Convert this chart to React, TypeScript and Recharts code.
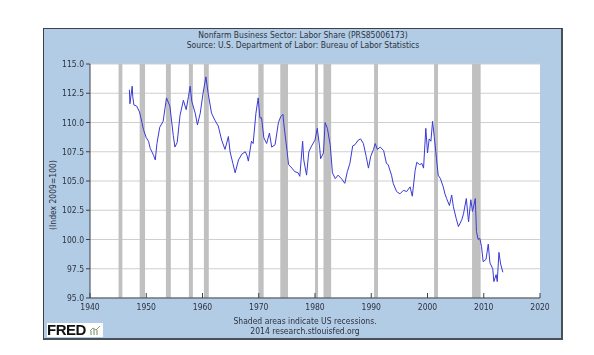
import * as React from 'react'
import {
  CartesianGrid,
  Line,
  LineChart,
  ReferenceArea,
  XAxis,
  YAxis,
} from 'recharts'

// quarter-ish sample points
const years = [
  1947.0, 1947.1, 1947.5, 1947.6, 1947.8, 1948.3, 1948.8, 1949.1, 1949.5, 1950.0,
  1950.4, 1950.7, 1951.3, 1951.6, 1951.9, 1952.4, 1953.0, 1953.6, 1954.2, 1954.8,
  1955.1, 1955.5, 1956.0, 1956.6, 1957.1, 1957.5, 1957.8, 1958.1, 1958.7, 1959.1,
  1959.6, 1960.1, 1960.6, 1961.0, 1961.6, 1962.2, 1962.8, 1963.4, 1964.0, 1964.6,
  1964.9, 1965.4, 1965.8, 1966.4, 1967.0, 1967.6, 1967.9, 1968.15, 1968.7, 1969.0,
  1969.5, 1969.9, 1970.2, 1970.5, 1970.9, 1971.4, 1971.9, 1972.3, 1972.9, 1973.5,
  1973.9, 1974.3, 1974.5, 1975.0, 1975.3, 1975.9, 1976.4, 1977.0, 1977.3, 1977.8,
  1978.0, 1978.5, 1978.9, 1979.4, 1980.0, 1980.4, 1980.8, 1981.0, 1981.5, 1981.8,
  1982.2, 1982.7, 1983.1, 1983.6, 1984.1, 1984.7, 1985.3, 1985.75, 1986.2, 1986.7,
  1987.1, 1987.7, 1988.1, 1988.6, 1989.1, 1989.5, 1989.9, 1990.4, 1990.7, 1991.1,
  1991.6, 1992.2, 1992.7, 1993.0, 1993.6, 1993.9, 1994.5, 1995.1, 1995.7, 1996.3,
  1996.9, 1997.3, 1997.8, 1998.1, 1998.6, 1999.0, 1999.3, 1999.7, 2000.0, 2000.3,
  2000.6, 2000.9, 2001.2, 2001.6, 2001.9, 2002.3, 2002.8, 2003.1, 2003.4, 2003.9,
  2004.3, 2004.6, 2005.1, 2005.5, 2006.1, 2006.4, 2006.9, 2007.3, 2007.7, 2008.0,
  2008.5, 2008.7, 2009.0, 2009.3, 2009.6, 2009.9, 2010.4, 2010.8, 2011.1, 2011.6,
  2011.8, 2012.2, 2012.4, 2012.7, 2013.0, 2013.4,
]

const laborShare = [
  112.8, 111.6, 113.1, 112.2, 111.5, 111.4, 110.9, 110.3, 109.4, 108.7,
  108.4, 107.8, 107.2, 106.8, 108.2, 109.6, 110.1, 112.1, 111.4, 108.9,
  107.9, 108.3, 110.6, 111.9, 111.1, 112.2, 113.1, 111.8, 110.8, 109.8,
  110.8, 112.5, 113.9, 112.5, 110.8, 110.2, 109.7, 108.5, 107.7, 108.8,
  107.5, 106.5, 105.7, 106.8, 107.3, 107.5, 107.2, 106.7, 108.4, 108.2,
  110.8, 112.1, 110.4, 110.4, 108.7, 108.2, 109.1, 107.9, 108.1, 110.0,
  110.5, 110.7, 109.7, 107.7, 106.4, 106.1, 105.8, 105.7, 105.4, 108.4,
  106.8, 105.5, 107.5, 108.0, 108.5, 109.5, 108.0, 106.9, 107.4, 110.0,
  109.5, 108.1, 105.7, 105.2, 105.5, 105.2, 104.8, 105.8, 106.5, 108.0,
  108.1, 108.5, 108.6, 108.2, 107.1, 106.1, 107.1, 107.7, 108.2, 107.7,
  107.9, 107.6, 106.5, 106.4, 105.5, 104.8, 104.1, 103.9, 104.2, 104.1,
  104.5, 103.7, 105.9, 106.6, 106.4, 106.5, 106.1, 109.5, 107.4, 108.6,
  108.4, 110.1, 108.8, 106.9, 105.5, 105.2, 104.5, 103.9, 103.5, 102.9,
  103.8, 102.8, 101.8, 101.1, 101.7, 102.2, 103.5, 101.5, 103.4, 102.4,
  103.5, 100.7, 100.0, 100.1, 99.4, 98.1, 98.3, 99.6, 98.0, 97.5,
  96.4, 97.0, 96.4, 98.9, 97.9, 97.2,
]

// NBER recessions (peak month to trough month)
const recessionStart = [1945.08, 1948.83, 1953.5, 1957.58, 1960.25, 1969.92, 1973.83, 1980.0, 1981.5, 1990.5, 2001.17, 2007.92]
const recessionEnd = [1945.75, 1949.79, 1954.37, 1958.29, 1961.12, 1970.87, 1975.2, 1980.54, 1982.87, 1991.2, 2001.87, 2009.45]

const xTicks = [1940, 1950, 1960, 1970, 1980, 1990, 2000, 2010, 2020]
const yTicks = [95, 97.5, 100, 102.5, 105, 107.5, 110, 112.5, 115]

const data = years.map((year, i) => ({ year, share: laborShare[i] }))

const FONT = "'DejaVu Sans Condensed', 'DejaVu Sans', sans-serif"
const TEXT = '#2b3340'

export default function App() {
  return (
    <div
      style={{
        position: 'fixed',
        left: 0,
        top: 0,
        width: 594,
        height: 355,
        background: '#fff',
        fontFamily: FONT,
        color: TEXT,
      }}
    >
      <div
        style={{
          position: 'absolute',
          left: 43,
          top: 28,
          width: 520,
          height: 312,
          boxSizing: 'border-box',
          background: '#b3cce5',
          borderTop: '1px solid #3c424a',
          borderLeft: '1px solid #3c424a',
          borderRight: '2px solid #4a5058',
          borderBottom: '2px solid #4a5058',
        }}
      />
      <div style={{ position: 'absolute', left: 0, width: 606, top: 30, textAlign: 'center', fontSize: 8.5, lineHeight: '10px' }}>
        Nonfarm Business Sector: Labor Share (PRS85006173)
        <br />
        Source: U.S. Department of Labor: Bureau of Labor Statistics
      </div>
      <div
        style={{
          position: 'absolute',
          left: 53,
          top: 195,
          transform: 'translate(-50%, -50%) rotate(-90deg)',
          fontSize: 8.5,
          whiteSpace: 'nowrap',
        }}
      >
        (Index 2009=100)
      </div>
      <div style={{ position: 'absolute', left: 0, width: 610, top: 316, textAlign: 'center', fontSize: 8.5, lineHeight: '10px' }}>
        Shaded areas indicate US recessions.
        <br />
        2014 research.stlouisfed.org
      </div>
      <div
        style={{
          position: 'absolute',
          left: 47,
          top: 323,
          width: 56,
          height: 14,
          background: '#fff',
          display: 'flex',
          alignItems: 'center',
        }}
      >
        <span style={{ fontFamily: "'Liberation Sans', Arial, sans-serif", fontWeight: 'bold', fontSize: 15, letterSpacing: -0.5, color: '#111', lineHeight: '14px' }}>
          FRED
        </span>
        <svg width={12} height={12} style={{ marginLeft: 3 }}>
          <rect x={1} y={7} width={2} height={4} fill="#b8c4b0" />
          <rect x={4} y={5} width={2} height={6} fill="#b8c4b0" />
          <rect x={7} y={6} width={2} height={5} fill="#b8c4b0" />
          <polyline points="1,7 4,4 7,6 11,2" fill="none" stroke="#7f9c74" strokeWidth={1} />
        </svg>
      </div>
      <div style={{ position: 'absolute', left: 43, top: 28 }}>
        <LineChart
          width={519}
          height={311}
          data={data}
          margin={{ top: 36, right: 22, bottom: 0, left: 0 }}
        >
          <CartesianGrid vertical={false} stroke="#cfcfcf" fill="#ffffff" />
          {recessionStart.map((start, i) => (
            <ReferenceArea
              key={start}
              x1={start}
              x2={recessionEnd[i]}
              fill="#c0c0c0"
              fillOpacity={1}
              stroke="none"
            />
          ))}
          <XAxis
            dataKey="year"
            type="number"
            domain={[1940, 2020]}
            ticks={xTicks}
            height={41}
            axisLine={{ stroke: '#3c424a' }}
            tickLine={{ stroke: '#3c424a' }}
            tickSize={-5}
            tickMargin={11}
            tick={{ fontSize: 8.5, fill: TEXT, fontFamily: FONT }}
          />
          <YAxis
            domain={[95, 115]}
            ticks={yTicks}
            width={47}
            axisLine={{ stroke: '#3c424a' }}
            tickLine={{ stroke: '#3c424a' }}
            tickSize={4}
            tickMargin={2}
            tickFormatter={(v: number) => v.toFixed(1)}
            tick={{ fontSize: 8.5, fill: TEXT, fontFamily: FONT }}
          />
          <Line
            type="linear"
            dataKey="share"
            stroke="#3a3ad6"
            strokeWidth={1}
            dot={false}
            isAnimationActive={false}
          />
        </LineChart>
      </div>
    </div>
  )
}
